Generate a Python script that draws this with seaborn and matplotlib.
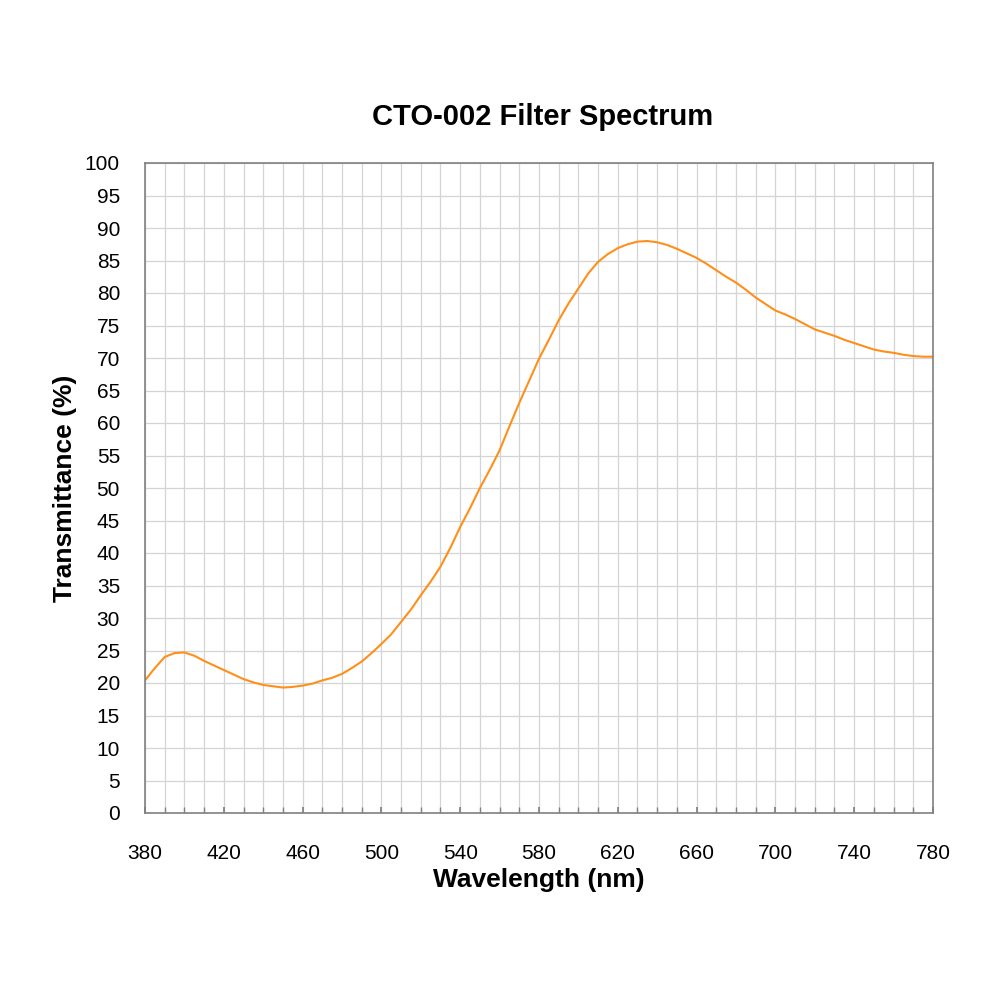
import matplotlib
matplotlib.use("Agg")
import matplotlib.pyplot as plt
import seaborn as sns
import pandas as pd
from matplotlib.ticker import MultipleLocator, FixedLocator

wavelength = [380, 385, 390, 395, 400, 405, 410, 415, 420, 425, 430, 435, 440, 445, 450, 455, 460,
              465, 470, 475, 480, 485, 490, 495,
              500, 505, 510, 515, 520, 525, 530, 535, 540, 545, 550, 555, 560, 565, 570, 575,
              580, 585, 590, 595, 600, 605, 610, 615, 620, 625, 630, 635,
              640, 645, 650, 655, 660, 665, 670, 675, 680, 685, 690, 695, 700, 705, 710, 715,
              720, 725, 730, 735, 740, 745, 750, 755, 760, 765, 770, 775, 780]
transmittance = [20.4, 22.3, 24.0, 24.6, 24.7, 24.2, 23.4, 22.7, 22.0, 21.3, 20.6, 20.1, 19.7, 19.5, 19.3, 19.4, 19.6,
                 19.9, 20.4, 20.8, 21.4, 22.3, 23.3, 24.6,
                 26.0, 27.5, 29.4, 31.3, 33.5, 35.6, 37.9, 40.8, 44.0, 46.9, 50.0, 52.8, 55.8, 59.5, 63.1, 66.5,
                 69.9, 72.8, 75.8, 78.4, 80.7, 83.0, 84.8, 86.0, 86.9, 87.5, 87.9, 88.0,
                 87.8, 87.4, 86.8, 86.1, 85.4, 84.5, 83.5, 82.5, 81.6, 80.5, 79.3, 78.3, 77.3, 76.7, 76.0, 75.2,
                 74.4, 73.9, 73.4, 72.8, 72.3, 71.8, 71.3, 71.0, 70.8, 70.5, 70.3, 70.2, 70.2]
x_ticks = [380, 420, 460, 500, 540, 580, 620, 660, 700, 740, 780]

df = pd.DataFrame({"Wavelength": wavelength, "Transmittance": transmittance})

sns.set_theme(style="white")
plt.rcParams['font.family'] = ['Liberation Sans', 'DejaVu Sans']
plt.rcParams['text.color'] = 'black'
plt.rcParams['axes.labelcolor'] = 'black'
plt.rcParams['xtick.color'] = 'black'
plt.rcParams['ytick.color'] = 'black'

fig = plt.figure(figsize=(10, 10), dpi=100)
ax = fig.add_axes([0.145, 0.187, 0.788, 0.65])

sns.lineplot(data=df, x="Wavelength", y="Transmittance", ax=ax, color="#FF8F1A", linewidth=1.5)

ax.set_xlim(380, 780)
ax.set_ylim(0, 100)
ax.xaxis.set_major_locator(FixedLocator(x_ticks))
ax.xaxis.set_minor_locator(MultipleLocator(10))
ax.yaxis.set_major_locator(MultipleLocator(5))
ax.grid(True, which="both", axis="x", color="#d4d4d4", linewidth=0.9)
ax.grid(True, which="major", axis="y", color="#d4d4d4", linewidth=0.9)
ax.set_axisbelow(True)

for side in ["left", "bottom", "top", "right"]:
    ax.spines[side].set_visible(True)
    ax.spines[side].set_color("#808080")
    ax.spines[side].set_linewidth(1.2)

ax.tick_params(axis="x", which="both", direction="in", length=4, color="#808080",
               labelsize=15, pad=22, bottom=True, labelcolor="black")
ax.tick_params(axis="y", which="both", length=0, labelsize=15, pad=18, labelcolor="black")

ax.set_xlabel("Wavelength (nm)", fontsize=19, fontweight="bold", labelpad=4, color="black")
ax.set_ylabel("Transmittance (%)", fontsize=19, fontweight="bold", labelpad=6, color="black")
fig.text(0.543, 0.883, "CTO-002 Filter Spectrum", fontsize=21, fontweight="bold",
         ha="center", va="center", color="black")

fig.savefig("out.png", dpi=100, facecolor="white")
